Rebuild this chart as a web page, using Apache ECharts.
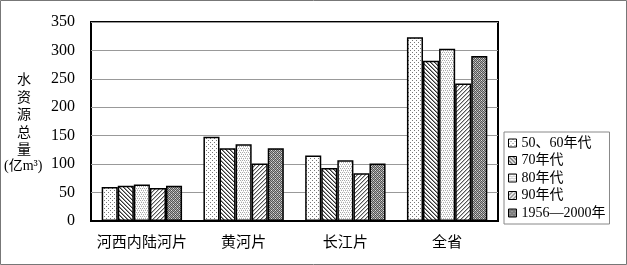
<!DOCTYPE html>
<html><head><meta charset="utf-8">
<script src="https://cdn.jsdelivr.net/npm/echarts@6/dist/echarts.min.js"></script>
<style>html,body{margin:0;padding:0;background:#fff}#c{width:627px;height:265px}</style>
</head><body><div id="c"></div>
<script>
const categories = ['河西内陆河片', '黄河片', '长江片', '全省'];
const seriesNames = ['50、60年代', '70年代', '80年代', '90年代', '1956—2000年'];
const s5060 = [60, 148, 115, 323];
const s70 = [62, 128, 93, 282];
const s80 = [64, 135, 107, 303];
const s90 = [58, 101, 84, 242];
const sAll = [62, 128, 101, 290];
const yTicks = [0, 50, 100, 150, 200, 250, 300, 350];

function pat(type) {
  const c = document.createElement('canvas');
  const n = 4;
  c.width = n; c.height = n;
  const g = c.getContext('2d');
  g.fillStyle = '#fff'; g.fillRect(0, 0, n, n);
  if (type === 0) {
    g.fillStyle = '#777';
    g.fillRect(0, 0, 1, 1); g.fillRect(2, 2, 1, 1);
  } else if (type === 1) {
    g.fillStyle = '#333';
    for (let i = 0; i < n; i++) { g.fillRect(i, i, 1, 1); }
    g.fillStyle = '#999';
    for (let i = 0; i < n; i++) { g.fillRect((i + 1) % n, i, 1, 1); }
  } else if (type === 2) {
    g.fillStyle = '#aaa';
    g.fillRect(0, 0, 1, 1); g.fillRect(2, 0, 1, 1); g.fillRect(1, 2, 1, 1); g.fillRect(3, 2, 1, 1);
    g.fillStyle = '#ddd';
    g.fillRect(1, 1, 1, 1); g.fillRect(3, 3, 1, 1);
  } else if (type === 3) {
    g.fillStyle = '#555';
    for (let i = 0; i < n; i++) { g.fillRect(n - 1 - i, i, 1, 1); }
    g.fillStyle = '#bbb';
    for (let i = 0; i < n; i++) { g.fillRect((n - i) % n, i, 1, 1); }
  } else {
    g.fillStyle = '#aaa'; g.fillRect(0, 0, n, n);
    g.fillStyle = '#555';
    g.fillRect(0, 0, 1, 1); g.fillRect(2, 0, 1, 1); g.fillRect(1, 1, 1, 1); g.fillRect(3, 1, 1, 1);
    g.fillRect(0, 2, 1, 1); g.fillRect(2, 2, 1, 1); g.fillRect(1, 3, 1, 1); g.fillRect(3, 3, 1, 1);
    g.fillStyle = '#ddd';
    g.fillRect(1, 0, 1, 1); g.fillRect(3, 2, 1, 1);
  }
  return c;
}

const dataSets = [s5060, s70, s80, s90, sAll];
const latin = '"Liberation Serif", "Noto Sans CJK SC", serif';
const chart = echarts.init(document.getElementById('c'), null, {renderer: 'canvas'});
chart.setOption({
  animation: false,
  backgroundColor: '#fff',
  grid: {left: 91, right: 129, top: 22, bottom: 44, show: true, borderColor: '#000', borderWidth: 2, backgroundColor: 'transparent'},
  xAxis: {
    type: 'category', data: categories,
    axisLine: {lineStyle: {color: '#000', width: 2}},
    axisTick: {inside: true, length: 4, lineStyle: {color: '#555'}},
    axisLabel: {interval: 0, fontSize: 15, color: '#000', margin: 13, fontFamily: '"Noto Sans CJK SC", sans-serif'}
  },
  yAxis: {
    type: 'value', min: 0, max: 350, interval: 50,
    axisLine: {show: false}, axisTick: {show: false},
    splitLine: {lineStyle: {color: '#999', width: 1}},
    axisLabel: {fontSize: 16, color: '#000', margin: 16, fontFamily: latin,
      formatter: v => yTicks.includes(v) ? String(v) : ''}
  },
  legend: {
    orient: 'vertical', left: 504, top: 132,
    padding: [4, 4, 4, 4], itemGap: 3.5, itemWidth: 8, itemHeight: 8,
    borderColor: '#888', borderWidth: 1, backgroundColor: '#fff',
    icon: 'rect',
    textStyle: {fontSize: 14, color: '#000', fontFamily: latin, lineHeight: 14},
    itemStyle: {borderColor: '#000', borderWidth: 1},
    data: seriesNames
  },
  series: seriesNames.map((name, i) => ({
    name, type: 'bar', data: dataSets[i],
    barGap: '0%', barCategoryGap: '21%',
    itemStyle: {color: {image: pat(i), repeat: 'repeat'}, borderColor: '#000', borderWidth: 1.5}
  })),
  graphic: [
    {type: 'rect', shape: {x: 0.5, y: 0.5, width: 626, height: 264}, style: {fill: 'none', stroke: '#777', lineWidth: 1}, z: 100},
    {type: 'text', left: 17, top: 70, style: {text: '水\n资\n源\n总\n量', fontSize: 14, lineHeight: 17.5, fill: '#000', fontFamily: '"Noto Sans CJK SC", sans-serif', textAlign: 'center'}},
    {type: 'text', left: 4, top: 159, style: {text: '(亿m³)', fontSize: 14, fill: '#000', fontFamily: latin}}
  ]
});
</script></body></html>
